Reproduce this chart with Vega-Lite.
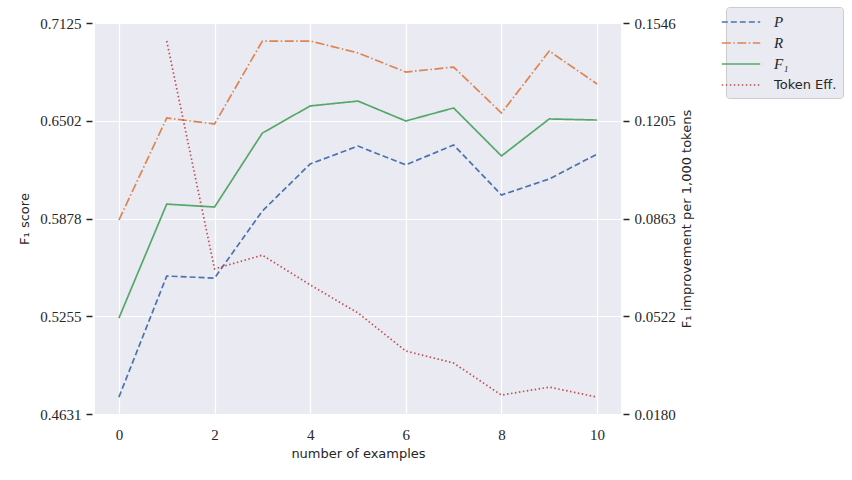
{
  "$schema": "https://vega.github.io/schema/vega-lite/v6.json",
  "width": 526,
  "height": 391,
  "autosize": {"type": "none"},
  "padding": {"left": 95, "top": 23, "right": 231, "bottom": 66},
  "background": "white",
  "config": {
    "view": {"fill": "#EAEAF2", "stroke": null},
    "axis": {
      "labelFont": "Liberation Serif",
      "labelFontSize": 15,
      "labelColor": "#262626",
      "titleFont": "DejaVu Sans",
      "titleFontSize": 13,
      "titleFontWeight": "normal",
      "titleColor": "#262626",
      "domain": false,
      "gridColor": "white",
      "gridWidth": 1.2,
      "tickColor": "#262626",
      "tickWidth": 1.5
    }
  },
  "data": {
    "values": [
      {"x": 0, "series": "P", "value": 0.4739},
      {"x": 1, "series": "P", "value": 0.5511},
      {"x": 2, "series": "P", "value": 0.5498},
      {"x": 3, "series": "P", "value": 0.5926},
      {"x": 4, "series": "P", "value": 0.6226},
      {"x": 5, "series": "P", "value": 0.6340},
      {"x": 6, "series": "P", "value": 0.6220},
      {"x": 7, "series": "P", "value": 0.6347},
      {"x": 8, "series": "P", "value": 0.6028},
      {"x": 9, "series": "P", "value": 0.6130},
      {"x": 10, "series": "P", "value": 0.6289},
      {"x": 0, "series": "R", "value": 0.5868},
      {"x": 1, "series": "R", "value": 0.6519},
      {"x": 2, "series": "R", "value": 0.6481},
      {"x": 3, "series": "R", "value": 0.7010},
      {"x": 4, "series": "R", "value": 0.7010},
      {"x": 5, "series": "R", "value": 0.6934},
      {"x": 6, "series": "R", "value": 0.6812},
      {"x": 7, "series": "R", "value": 0.6844},
      {"x": 8, "series": "R", "value": 0.6551},
      {"x": 9, "series": "R", "value": 0.6946},
      {"x": 10, "series": "R", "value": 0.6736},
      {"x": 0, "series": "F₁", "value": 0.5243},
      {"x": 1, "series": "F₁", "value": 0.5970},
      {"x": 2, "series": "F₁", "value": 0.5951},
      {"x": 3, "series": "F₁", "value": 0.6423},
      {"x": 4, "series": "F₁", "value": 0.6596},
      {"x": 5, "series": "F₁", "value": 0.6627},
      {"x": 6, "series": "F₁", "value": 0.6500},
      {"x": 7, "series": "F₁", "value": 0.6583},
      {"x": 8, "series": "F₁", "value": 0.6277},
      {"x": 9, "series": "F₁", "value": 0.6513},
      {"x": 10, "series": "F₁", "value": 0.6506},
      {"x": 1, "series": "Token Eff.", "value": 0.1483},
      {"x": 2, "series": "Token Eff.", "value": 0.0687},
      {"x": 3, "series": "Token Eff.", "value": 0.0735},
      {"x": 4, "series": "Token Eff.", "value": 0.0631},
      {"x": 5, "series": "Token Eff.", "value": 0.0533},
      {"x": 6, "series": "Token Eff.", "value": 0.0400},
      {"x": 7, "series": "Token Eff.", "value": 0.0358},
      {"x": 8, "series": "Token Eff.", "value": 0.0246},
      {"x": 9, "series": "Token Eff.", "value": 0.0274},
      {"x": 10, "series": "Token Eff.", "value": 0.0239}
    ]
  },
  "encoding": {
    "x": {
      "field": "x",
      "type": "quantitative",
      "title": "number of examples",
      "scale": {"domain": [-0.5, 10.5], "nice": false, "zero": false},
      "axis": {
        "values": [0, 2, 4, 6, 8, 10],
        "grid": true,
        "ticks": false,
        "labelPadding": 13,
        "titlePadding": 5
      }
    },
    "color": {
      "field": "series",
      "type": "nominal",
      "scale": {
        "domain": ["P", "R", "F₁", "Token Eff."],
        "range": ["#4C72B0", "#DD8452", "#55A868", "#C44E52"]
      },
      "legend": {
        "title": null,
        "orient": "none",
        "legendX": 631,
        "legendY": -16,
        "fillColor": "#EAEAF2",
        "strokeColor": "#CCCCCC",
        "cornerRadius": 3,
        "padding": 6,
        "symbolType": "M-2.4,0H2.4",
        "symbolSize": 256,
        "symbolStrokeWidth": 1.6,
        "labelOffset": 24,
        "labelFontSize": 15,
        "labelColor": "#262626",
        "rowPadding": 4,
        "encode": {
          "labels": {
            "update": {
              "fontStyle": {"signal": "datum.value === 'Token Eff.' ? 'normal' : 'italic'"},
              "font": {"signal": "datum.value === 'Token Eff.' ? 'DejaVu Sans' : 'Liberation Serif'"},
              "fontSize": {"signal": "datum.value === 'Token Eff.' ? 13 : 15"}
            }
          }
        }
      }
    },
    "strokeDash": {
      "field": "series",
      "type": "nominal",
      "scale": {
        "domain": ["P", "R", "F₁", "Token Eff."],
        "range": [[6, 3], [9, 2.5, 1.5, 2.5], [1, 0], [1.5, 2.5]]
      },
      "legend": null
    }
  },
  "layer": [
    {
      "transform": [{"filter": "datum.series !== 'Token Eff.'"}],
      "mark": {"type": "line", "strokeWidth": 1.7},
      "encoding": {
        "y": {
          "field": "value",
          "type": "quantitative",
          "title": "F₁ score",
          "scale": {"domain": [0.4631, 0.7125], "nice": false, "zero": false},
          "axis": {
            "values": [0.4631, 0.5255, 0.5878, 0.6502, 0.7125],
            "format": ".4f",
            "grid": true,
            "offset": 3,
            "tickSize": 6,
            "labelPadding": 5,
            "titlePadding": 8
          }
        }
      }
    },
    {
      "transform": [{"filter": "datum.series === 'Token Eff.'"}],
      "mark": {"type": "line", "strokeWidth": 1.7},
      "encoding": {
        "y": {
          "field": "value",
          "type": "quantitative",
          "title": "F₁ improvement per 1,000 tokens",
          "scale": {"domain": [0.018, 0.1546], "nice": false, "zero": false},
          "axis": {
            "orient": "right",
            "values": [0.018, 0.0522, 0.0863, 0.1205, 0.1546],
            "format": ".4f",
            "grid": false,
            "offset": 2,
            "tickSize": 6,
            "labelPadding": 5,
            "titleAngle": 270,
            "titleBaseline": "top",
            "titlePadding": 5
          }
        }
      }
    }
  ],
  "resolve": {"scale": {"y": "independent"}}
}
